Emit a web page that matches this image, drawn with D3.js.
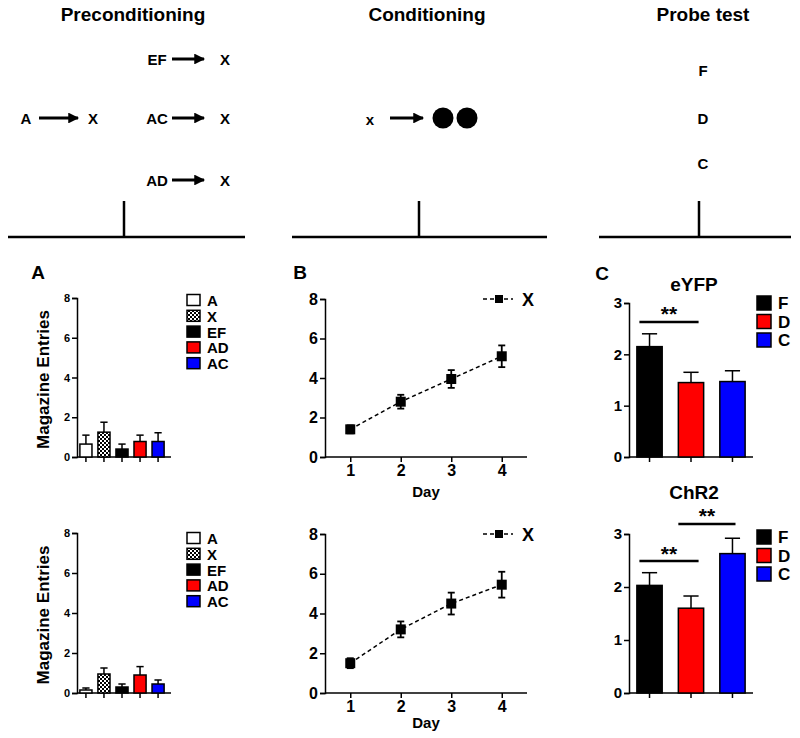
<!DOCTYPE html>
<html><head><meta charset="utf-8">
<script src="https://cdn.jsdelivr.net/npm/d3@7"></script>
<style>body{margin:0;background:#fff}text{font-family:"Liberation Sans",Arial,sans-serif;font-weight:bold}</style>
</head><body><svg id="c" width="800" height="738"></svg>
<script>
// ---- data ----
const precondCats = ["A","X","EF","AD","AC"];
const precondFill = ["white","pattern","black","red","blue"];
const precondTopMean = [0.65,1.25,0.4,0.78,0.78];
const precondTopErr  = [0.45,0.5,0.25,0.32,0.44];
const precondBotMean = [0.15,0.95,0.3,0.9,0.45];
const precondBotErr  = [0.1,0.3,0.15,0.42,0.2];
const days = [1,2,3,4];
const condTopMean = [1.4,2.8,3.95,5.1];
const condTopErr  = [0.2,0.35,0.45,0.55];
const condBotMean = [1.5,3.2,4.5,5.45];
const condBotErr  = [0.25,0.4,0.55,0.65];
const probeCats = ["F","D","C"];
const probeFill = ["black","red","blue"];
const probeTopMean = [2.15,1.45,1.47];
const probeTopErr  = [0.25,0.2,0.21];
const probeBotMean = [2.03,1.6,2.63];
const probeBotErr  = [0.24,0.23,0.29];
const probeTopSig = [{a:"F",b:"D",level:2.63,label:"**"}];
const probeBotSig = [{a:"F",b:"D",level:2.49,label:"**"},{a:"D",b:"C",level:3.19,label:"**"}];
const yTicksA = [0,2,4,6,8];
const yTicksC = [0,1,2,3];

const svg = d3.select("#c");
const defs = svg.append("defs");
const pat = defs.append("pattern").attr("id","chk").attr("width",4).attr("height",4).attr("patternUnits","userSpaceOnUse");
pat.append("rect").attr("width",4).attr("height",4).attr("fill","black");
pat.append("rect").attr("x",0).attr("y",0).attr("width",2).attr("height",2).attr("fill","white");
pat.append("rect").attr("x",2).attr("y",2).attr("width",2).attr("height",2).attr("fill","white");
defs.append("marker").attr("id","arr").attr("viewBox","0 0 10 10").attr("refX",9).attr("refY",5)
  .attr("markerWidth",4).attr("markerHeight",3.6).attr("markerUnits","strokeWidth").attr("orient","auto")
  .append("path").attr("d","M0,0 L10,5 L0,10 Z").attr("fill","black");
const fillOf = f => f==="pattern" ? "url(#chk)" : f;

// ---- schematic ----
function txt(x,y,s,size,anchor){ return svg.append("text").attr("x",x).attr("y",y).attr("font-size",size)
  .attr("text-anchor",anchor||"middle").attr("dominant-baseline","central").text(s); }
function arrow(x1,x2,y){ svg.append("line").attr("x1",x1).attr("x2",x2).attr("y1",y).attr("y2",y)
  .attr("stroke","black").attr("stroke-width",3).attr("marker-end","url(#arr)"); }
function base(x1,x2,xt){ svg.append("line").attr("x1",x1).attr("x2",x2).attr("y1",237).attr("y2",237).attr("stroke","black").attr("stroke-width",2.5);
  svg.append("line").attr("x1",xt).attr("x2",xt).attr("y1",201).attr("y2",237).attr("stroke","black").attr("stroke-width",2.5); }
txt(133,14,"Preconditioning",19); txt(427,14,"Conditioning",19); txt(703,14,"Probe test",19);
txt(26,118,"A",15); arrow(39,78,118); txt(93,118,"X",15);
[["EF",59],["AC",118],["AD",180]].forEach(([s,y])=>{ txt(157,y,s,15); arrow(172,204,y); txt(225,y,"X",15); });
base(8,245,124);
txt(370,119,"x",15); arrow(390,423,118);
svg.append("circle").attr("cx",443).attr("cy",118).attr("r",10.5);
svg.append("circle").attr("cx",467).attr("cy",118).attr("r",10.5);
base(292,547,419);
txt(703,70,"F",15); txt(703,118,"D",15); txt(703,163,"C",15);
base(599,791,699);

// ---- helpers ----
function yAxis(y,x0,ticks,fs){
  const g = svg.append("g").attr("transform",`translate(${x0},0)`)
    .call(d3.axisLeft(y).tickValues(ticks).tickSize(5).tickPadding(2).tickFormat(d3.format("d")));
  g.select(".domain").attr("stroke-width",1.5);
  g.selectAll(".tick line").attr("stroke-width",1.5);
  g.selectAll("text").attr("font-size",fs).attr("font-family","Liberation Sans").attr("font-weight","bold");
  return g;
}
function barPanel(cats,fills,mean,err,x,y,ticks,fs,strokeW,axisEnd){
  yAxis(y,x.range()[0],ticks,fs);
  const y0 = y(0);
  svg.append("line").attr("x1",x.range()[0]).attr("x2",axisEnd).attr("y1",y0).attr("y2",y0).attr("stroke","black").attr("stroke-width",1.5);
  cats.forEach((c,i)=>{
    const cx = x(c)+x.bandwidth()/2;
    svg.append("line").attr("x1",cx).attr("x2",cx).attr("y1",y0).attr("y2",y0+5).attr("stroke","black").attr("stroke-width",1.5);
    const top = y(mean[i]+err[i]);
    svg.append("line").attr("x1",cx).attr("x2",cx).attr("y1",y(mean[i])).attr("y2",top).attr("stroke","black").attr("stroke-width",1.5);
    svg.append("line").attr("x1",cx-x.bandwidth()*0.3).attr("x2",cx+x.bandwidth()*0.3).attr("y1",top).attr("y2",top).attr("stroke","black").attr("stroke-width",1.5);
    svg.append("rect").attr("x",x(c)).attr("y",y(mean[i])).attr("width",x.bandwidth()).attr("height",y0-y(mean[i]))
      .attr("fill",fillOf(fills[i])).attr("stroke","black").attr("stroke-width",strokeW);
  });
}
function legendBoxes(cats,fills,x0,y0,dy,bw,bh,fs){
  cats.forEach((c,i)=>{
    svg.append("rect").attr("x",x0).attr("y",y0+i*dy-bh/2).attr("width",bw).attr("height",bh)
      .attr("fill",fillOf(fills[i])).attr("stroke","black").attr("stroke-width",1.5);
    txt(x0+bw+7,y0+i*dy+0.5,c,fs,"start");
  });
}

// ---- panel A ----
txt(38,272,"A",19);
[[precondTopMean,precondTopErr,457,298,300],[precondBotMean,precondBotErr,693,533,538]].forEach(([m,e,yb,yt,ly])=>{
  const x = d3.scaleBand().domain(precondCats).range([77,167]).paddingInner(0.33).paddingOuter(0.16);
  const y = d3.scaleLinear().domain([0,8]).range([yb,yt]);
  barPanel(precondCats,precondFill,m,e,x,y,yTicksA,11,1.5,171);
  svg.append("text").attr("transform",`translate(43,${(yb+yt)/2+2}) rotate(-90)`).attr("text-anchor","middle")
    .attr("dominant-baseline","central").attr("font-size",17).text("Magazine Entries");
  legendBoxes(precondCats,precondFill,187,ly,15.8,13,11,15);
});

// ---- panel B ----
txt(300,272,"B",19);
[[condTopMean,condTopErr,457,299,491],[condBotMean,condBotErr,693,534,722]].forEach(([m,e,yb,yt,dy])=>{
  const x = d3.scaleLinear().domain([0.5,4.5]).range([325,527]);
  const y = d3.scaleLinear().domain([0,8]).range([yb,yt]);
  yAxis(y,325,yTicksA,16);
  const gx = svg.append("g").attr("transform",`translate(0,${yb})`).call(d3.axisBottom(x).tickValues(days).tickSize(5).tickFormat(d3.format("d")));
  gx.select(".domain").attr("d",`M325,0H527`).attr("stroke-width",1.5);
  gx.selectAll(".tick line").attr("stroke-width",1.5);
  gx.selectAll("text").attr("font-size",16).attr("font-family","Liberation Sans").attr("font-weight","bold");
  txt(426,dy,"Day",15);
  const line = d3.line().x((d,i)=>x(days[i])).y(d=>y(d));
  svg.append("path").attr("d",line(m)).attr("fill","none").attr("stroke","black").attr("stroke-width",1.5).attr("stroke-dasharray","4,3");
  m.forEach((v,i)=>{
    const cx=x(days[i]);
    svg.append("line").attr("x1",cx).attr("x2",cx).attr("y1",y(v-e[i])).attr("y2",y(v+e[i])).attr("stroke","black").attr("stroke-width",1.8);
    [v-e[i],v+e[i]].forEach(w=>svg.append("line").attr("x1",cx-3.5).attr("x2",cx+3.5).attr("y1",y(w)).attr("y2",y(w)).attr("stroke","black").attr("stroke-width",1.8));
    svg.append("rect").attr("x",cx-5).attr("y",y(v)-5).attr("width",10).attr("height",10).attr("fill","black");
  });
  svg.append("line").attr("x1",483).attr("x2",513).attr("y1",yt).attr("y2",yt).attr("stroke","black").attr("stroke-width",1.5).attr("stroke-dasharray","4,3");
  svg.append("rect").attr("x",495).attr("y",yt-4).attr("width",8).attr("height",8).attr("fill","black");
  txt(522,yt+1,"X",18,"start");
});

// ---- panel C ----
txt(602,273,"C",19);
const probePanels = [
  {mean:probeTopMean,err:probeTopErr,yb:457,yt:303,title:"eYFP",ty:284,ly:303,sig:probeTopSig,off:[[0.1,0.8]]},
  {mean:probeBotMean,err:probeBotErr,yb:693,yt:534,title:"ChR2",ty:492,ly:537,sig:probeBotSig,off:[[0.1,0.8],[0.0,0.62]]}
];
probePanels.forEach(p=>{
  const x = d3.scaleBand().domain(probeCats).range([629,753]).paddingInner(0.39).paddingOuter(0.19);
  const y = d3.scaleLinear().domain([0,3]).range([p.yb,p.yt]);
  barPanel(probeCats,probeFill,p.mean,p.err,x,y,yTicksC,15,1.5,753);
  txt(694,p.ty,p.title,19);
  legendBoxes(probeCats,probeFill,757,p.ly,18.5,14,14,17);
  p.sig.forEach((s,si)=>{
    const x1 = x(s.a)+x.bandwidth()*p.off[si][0], x2 = x(s.b)+x.bandwidth()*p.off[si][1];
    const yy = y(s.level);
    svg.append("line").attr("x1",x1).attr("x2",x2).attr("y1",yy).attr("y2",yy).attr("stroke","black").attr("stroke-width",2.5);
    txt((x1+x2)/2,yy-8,s.label,21);
  });
});
</script></body></html>
